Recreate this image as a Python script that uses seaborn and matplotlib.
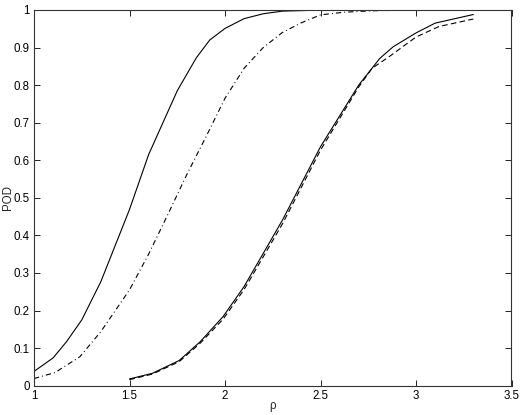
import matplotlib
matplotlib.use("Agg")
import matplotlib.pyplot as plt
import seaborn as sns
import pandas as pd
from matplotlib.ticker import FuncFormatter

# Curve A: solid, left
rho_a = [1.0, 1.1, 1.17, 1.25, 1.35, 1.5, 1.6, 1.75, 1.85, 1.92, 2.0, 2.1, 2.2, 2.3, 2.45, 2.6, 2.8, 3.0, 3.3]
pod_a = [0.038, 0.074, 0.117, 0.175, 0.277, 0.469, 0.615, 0.785, 0.873, 0.92, 0.951, 0.977, 0.99, 0.997, 0.999, 1.0, 1.0, 1.0, 1.0]

# Curve B: dash-dot, left
rho_b = [1.0, 1.11, 1.24, 1.35, 1.5, 1.6, 1.7, 1.8, 1.9, 2.0, 2.1, 2.2, 2.3, 2.4, 2.5, 2.62, 2.77, 3.0, 3.3]
pod_b = [0.019, 0.035, 0.077, 0.144, 0.255, 0.35, 0.455, 0.562, 0.662, 0.765, 0.845, 0.9, 0.94, 0.966, 0.987, 0.994, 0.998, 1.0, 1.0]

# Curve C: solid, right
rho_c = [1.5, 1.62, 1.76, 1.87, 1.99, 2.1, 2.3, 2.5, 2.7, 2.81, 2.88, 3.0, 3.1, 3.3]
pod_c = [0.018, 0.033, 0.067, 0.117, 0.184, 0.264, 0.44, 0.636, 0.800, 0.871, 0.902, 0.939, 0.965, 0.988]

# Curve D: dashed, right
rho_d = [1.5, 1.62, 1.76, 1.87, 1.99, 2.1, 2.3, 2.5, 2.7, 2.77, 2.86, 3.0, 3.12, 3.3]
pod_d = [0.016, 0.031, 0.064, 0.113, 0.177, 0.256, 0.43, 0.627, 0.795, 0.845, 0.876, 0.928, 0.956, 0.976]

x_ticks = [1, 1.5, 2, 2.5, 3, 3.5]
y_ticks = [0, 0.1, 0.2, 0.3, 0.4, 0.5, 0.6, 0.7, 0.8, 0.9, 1.0]

sns.set_style("ticks")
plt.rcParams['font.family'] = ['Liberation Sans', 'DejaVu Sans']
plt.rcParams['lines.scale_dashes'] = False

fig = plt.figure(figsize=(5.22, 4.15), dpi=100)
ax = fig.add_axes([34 / 522, (415 - 385.7) / 415, 477.5 / 522, 375.7 / 415])

curves = [
    (rho_a, pod_a, "-"),
    (rho_b, pod_b, (0, (3.8, 2.2, 0.7, 2.2))),
    (rho_c, pod_c, "-"),
    (rho_d, pod_d, (0, (4.0, 2.4))),
]
for xs, ys, ls in curves:
    df = pd.DataFrame({"rho": xs, "pod": ys})
    sns.lineplot(data=df, x="rho", y="pod", ax=ax, color="black", linewidth=0.8,
                 linestyle=ls, sort=False, estimator=None)

ax.set_xlim(1, 3.5)
ax.set_ylim(0, 1)
ax.set_xticks(x_ticks)
ax.set_yticks(y_ticks)
fmt = FuncFormatter(lambda v, p: f"{v:g}")
ax.xaxis.set_major_formatter(fmt)
ax.yaxis.set_major_formatter(fmt)
ax.tick_params(direction="in", length=4, width=0.6, top=True, right=True,
               labelsize=8.3, colors="black", pad=3)
for s in ax.spines.values():
    s.set_visible(True)
    s.set_linewidth(0.8)
    s.set_color("#333333")
ax.set_xlabel("ρ", fontsize=8.3)
ax.set_ylabel("POD", fontsize=8.3, va="top")
ax.xaxis.set_label_coords(0.5, -0.038)
ax.yaxis.set_label_coords(-0.066, 0.5)

fig.savefig("out.png", dpi=100)
